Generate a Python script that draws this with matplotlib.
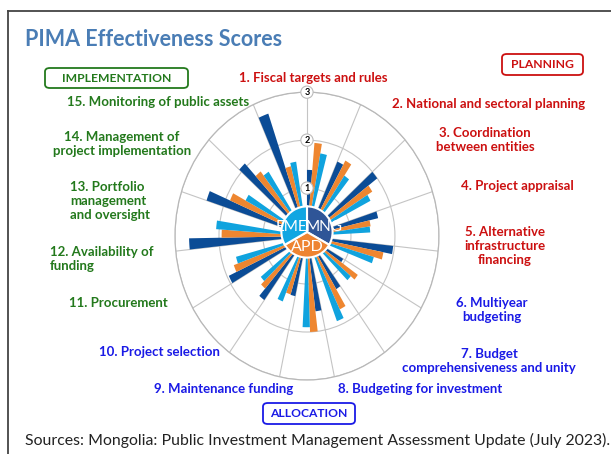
import numpy as np
import matplotlib
matplotlib.use('Agg')
import matplotlib.pyplot as plt
from matplotlib.lines import Line2D
from matplotlib.patches import FancyBboxPatch

plt.rcParams['font.family'] = ['Lato', 'DejaVu Sans']

# PIMA dimensions, clockwise from the top
categories = [
    '1. Fiscal targets and rules',
    '2. National and sectoral planning',
    '3. Coordination\nbetween entities',
    '4. Project appraisal',
    '5. Alternative\ninfrastructure\nfinancing',
    '6. Multiyear\nbudgeting',
    '7. Budget\ncomprehensiveness and unity',
    '8. Budgeting for investment',
    '9. Maintenance funding',
    '10. Project selection',
    '11. Procurement',
    '12. Availability of\nfunding',
    '13. Portfolio\nmanagement\nand oversight',
    '14. Management of\nproject implementation',
    '15. Monitoring of public assets',
]
groups = ['PLANNING', 'ALLOCATION', 'IMPLEMENTATION']

# effectiveness scores
mng = [1.38, 1.70, 2.00, 1.66, 1.97, 0.95, 1.29, 1.58, 1.28, 1.65, 1.96, 2.68, 2.40, 2.07, 2.70]
apd = [1.95, 1.80, 1.75, 1.46, 1.77, 1.41, 1.70, 2.00, 1.27, 1.45, 1.77, 1.94, 1.90, 1.71, 1.50]
em = [1.75, 1.52, 1.62, 1.44, 1.58, 1.30, 1.90, 1.90, 1.47, 1.35, 1.67, 2.07, 1.58, 1.60, 1.57]
series_names = ['MNG', 'APD', 'EM']
ring_ticks = [1, 2, 3]

bar_colors = ['#0B4C96', '#EE8630', '#10A3DE']
pie_colors = ['#2F5597', '#EE8432', '#10A6E2']
red, blue, green = '#CC1010', '#1A1AE6', '#23791C'
label_colors = [red] * 5 + [blue] * 5 + [green] * 5

W, H = 611, 454
fig = plt.figure(figsize=(W / 100, H / 100), dpi=100)

# frame around the picture (right and bottom sides fall outside)
fig.add_artist(Line2D([8 / W, 1], [1 - 11 / H] * 2, color='#444444', lw=1.3))
fig.add_artist(Line2D([8 / W] * 2, [0, 1 - 11 / H], color='#444444', lw=1.3))

# polar bars
ax = fig.add_axes([0.2864, 0.163, 0.432, 0.634], projection='polar')
ax.set_theta_zero_location('N')
ax.set_theta_direction(-1)
ax.set_aspect('auto')
ax.set_ylim(0, 3)
ax.set_xticks(np.deg2rad(np.arange(0, 360, 24)))
ax.set_xticklabels([])
ax.set_yticks(ring_ticks)
ax.set_yticklabels([])
ax.grid(color='#C4C4C4', lw=0.8)
ax.spines['polar'].set_color('#B8B8B8')
ax.spines['polar'].set_linewidth(0.9)
ax.set_axisbelow(True)

base = 24 * np.arange(len(categories))
for j, (vals, col) in enumerate(zip([mng, apd, em], bar_colors)):
    theta = np.deg2rad(base + 2.5 + 5 * j)
    ax.bar(theta, vals, width=np.deg2rad(5.0), color=col, linewidth=0, zorder=3)

for t in ring_ticks:
    ax.text(0, t, str(t), ha='center', va='center', fontsize=6.5, fontweight='bold',
            zorder=5, bbox=dict(boxstyle='circle,pad=0.18', fc='white', ec='#BBBBBB', lw=0.8))

# centre pie
pax = fig.add_axes([(307 - 32) / W, 1 - (232 + 32) / H, 64 / W, 64 / H])
pax.pie([1, 1, 1], colors=pie_colors, startangle=90, counterclock=False,
        wedgeprops=dict(edgecolor='white', linewidth=1.5))
pax.set_aspect('auto')
pax.text(0.0, 0.18, 'EME', color='white', fontsize=11, ha='right', va='center')
pax.text(-0.05, 0.18, 'MNG', color='white', fontsize=11, ha='left', va='center')
pax.text(0.02, -0.6, 'APD', color='white', fontsize=11.5, ha='center', va='center')

# category labels
label_pos = [
    (313, 78, 'center'), (489, 104, 'center'), (485, 140, 'center'), (517, 186, 'center'),
    (505, 246, 'center'), (492, 310, 'center'), (489, 361, 'center'), (420, 389, 'center'),
    (224, 389, 'center'), (159, 352, 'center'), (118, 303, 'center'), (50, 259, 'left'),
    (70, 201, 'left'), (122, 144, 'center'), (158, 102, 'center'),
]
for name, col, (x, y, ha) in zip(categories, label_colors, label_pos):
    fig.text(x / W, 1 - y / H, name, color=col, fontsize=9.5, fontweight='bold',
             ha=ha, va='center', multialignment=ha, linespacing=1.2)

# group boxes: left, top, right, bottom in pixels
box_pos = [(502, 54, 583, 75, red), (263, 403, 355, 424, blue), (45, 68, 188, 88, green)]
for name, (x0, y0, x1, y1, col) in zip(groups, box_pos):
    fig.add_artist(FancyBboxPatch((x0 / W, 1 - y1 / H), (x1 - x0) / W, (y1 - y0) / H,
                                  boxstyle='round,pad=0,rounding_size=0.008',
                                  transform=fig.transFigure, fc='white', ec=col, lw=1.3))
    fig.text((x0 + x1) / 2 / W, 1 - (y0 + y1) / 2 / H, name, color=col, fontsize=8.7,
             fontweight='bold', ha='center', va='center')

fig.text(25 / W, 1 - 40 / H, 'PIMA Effectiveness Scores', color='#4A7DB5',
         fontsize=15.5, fontweight='bold', ha='left', va='center')
fig.text(25 / W, 1 - 440 / H,
         'Sources: Mongolia: Public Investment Management Assessment Update (July 2023).',
         color='#222222', fontsize=11.4, ha='left', va='center')

fig.savefig('out.png', dpi=100)
